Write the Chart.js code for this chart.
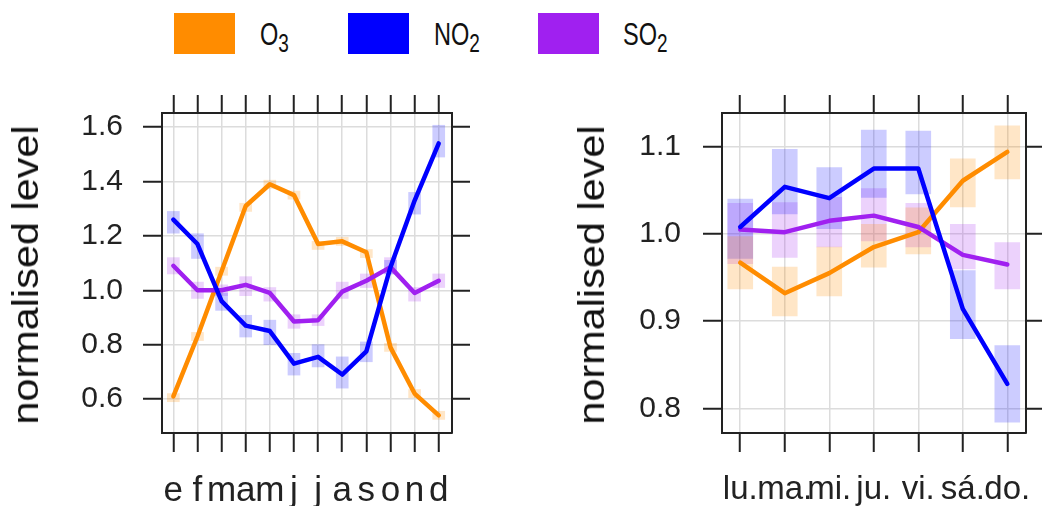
<!DOCTYPE html>
<html>
<head>
<meta charset="utf-8">
<script src="https://cdn.jsdelivr.net/npm/chart.js@4.4.1/dist/chart.umd.min.js"></script>
<style>
  html, body { margin: 0; padding: 0; background: #fff; overflow: hidden; width: 1042px; height: 506px; }
  body { position: relative; font-family: "Liberation Sans", Arial, sans-serif; color: #111; }
  canvas { position: absolute; top: 0; }
  #cMonth { left: 0; }
  #cDay { left: 560px; }
  .key { position: absolute; top: 13px; width: 61px; height: 41px; }
  .keyText { position: absolute; top: 20px; font-size: 31px; line-height: 30px; white-space: nowrap;
             transform: scaleX(0.76); transform-origin: left center; }
  .keyText sub { font-size: 25px; vertical-align: -7px; line-height: 0; }
  .ytitle { position: absolute; top: 275px; font-size: 36px; white-space: nowrap;
            transform: translate(-50%, -50%) rotate(-90deg) scaleX(1.15); }
</style>
</head>
<body>
<div class="key" style="left:174px;background:#FF8C00"></div>
<div class="keyText" style="left:260px">O<sub>3</sub></div>
<div class="key" style="left:348px;background:#0000FF"></div>
<div class="keyText" style="left:434px">NO<sub>2</sub></div>
<div class="key" style="left:538px;background:#A020F0"></div>
<div class="keyText" style="left:623px">SO<sub>2</sub></div>

<canvas id="cMonth" width="500" height="506"></canvas>
<canvas id="cDay" width="520" height="506"></canvas>

<div class="ytitle" style="left:26px">normalised level</div>
<div class="ytitle" style="left:592px">normalised level</div>

<script>
// month panel
const months = ['e', 'f', 'm', 'a', 'm', 'j', 'j', 'a', 's', 'o', 'n', 'd'];
const monthTicks = [0.6, 0.8, 1.0, 1.2, 1.4, 1.6];

const o3Month = [0.61, 0.83, 1.07, 1.31, 1.39, 1.35, 1.17, 1.18, 1.14, 0.79, 0.62, 0.54];
const o3MonthLo = [0.59, 0.815, 1.055, 1.29, 1.375, 1.335, 1.15, 1.165, 1.12, 0.775, 0.605, 0.525];
const o3MonthHi = [0.62, 0.845, 1.085, 1.32, 1.405, 1.365, 1.18, 1.195, 1.15, 0.805, 0.635, 0.555];

const no2Month = [1.26, 1.17, 0.96, 0.87, 0.85, 0.73, 0.755, 0.69, 0.775, 1.085, 1.33, 1.54];
const no2MonthLo = [1.21, 1.117, 0.926, 0.828, 0.80, 0.688, 0.718, 0.64, 0.737, 1.06, 1.28, 1.49];
const no2MonthHi = [1.29, 1.208, 0.99, 0.908, 0.89, 0.768, 0.80, 0.755, 0.81, 1.11, 1.36, 1.607];

const so2Month = [1.09, 1.0, 1.0, 1.02, 0.99, 0.885, 0.89, 0.995, 1.035, 1.085, 0.99, 1.035];
const so2MonthLo = [1.06, 0.97, 0.98, 0.98, 0.96, 0.86, 0.87, 0.97, 1.01, 1.06, 0.96, 1.01];
const so2MonthHi = [1.12, 1.03, 1.02, 1.05, 1.01, 0.91, 0.91, 1.03, 1.06, 1.12, 1.01, 1.06];

// weekday panel
const days = ['lu.', 'ma.', 'mi.', 'ju.', 'vi.', 'sá.', 'do.'];
const dayTicks = [0.8, 0.9, 1.0, 1.1];

const o3Day = [0.967, 0.932, 0.955, 0.985, 1.002, 1.061, 1.094];
const o3DayLo = [0.937, 0.906, 0.929, 0.962, 0.977, 1.031, 1.063];
const o3DayHi = [0.997, 0.962, 0.985, 1.011, 1.030, 1.086, 1.124];

const no2Day = [1.008, 1.054, 1.041, 1.075, 1.075, 0.914, 0.828];
const no2DayLo = [0.972, 1.023, 1.006, 1.042, 1.046, 0.880, 0.784];
const no2DayHi = [1.040, 1.097, 1.076, 1.119, 1.118, 0.958, 0.872];

const so2Day = [1.005, 1.002, 1.015, 1.021, 1.008, 0.976, 0.965];
const so2DayLo = [0.966, 0.973, 0.985, 0.992, 0.985, 0.960, 0.937];
const so2DayHi = [1.035, 1.036, 1.042, 1.052, 1.035, 1.011, 0.990];

const ORANGE = '#FF8C00', BLUE = '#0000FF', PURPLE = '#A020F0';
const ORANGE_BOX = 'rgba(255,140,0,0.22)';
const BLUE_BOX = 'rgba(0,0,255,0.2)';
const PURPLE_BOX = 'rgba(160,32,240,0.2)';
const INK = '#222';
const GRID = '#dcdcdc';
const FAMILY = '"Liberation Sans", Arial, sans-serif';

function lineSet(vals, color) {
    return {
        type: 'line',
        data: vals.map((v, i) => ({ x: i + 1, y: v })),
        borderColor: color,
        borderWidth: 4.5,
        borderJoinStyle: 'round',
        borderCapStyle: 'round',
        pointRadius: 0,
        fill: false,
        tension: 0,
        order: 0
    };
}

function boxSet(lo, hi, color, thick) {
    return {
        type: 'bar',
        data: lo.map((v, i) => ({ x: i + 1, y: [v, hi[i]] })),
        backgroundColor: color,
        borderWidth: 0,
        barThickness: thick,
        grouped: false,
        order: 1
    };
}

function panel(id, cats, yTicks, xMin, xMax, yMin, yMax, datasets, sizes) {
    const xTicks = s => { s.ticks = cats.map((c, i) => ({ value: i + 1 })); };
    const yTickSet = s => { s.ticks = yTicks.map(v => ({ value: v })); };
    const gridBase = { color: GRID, lineWidth: 1.5, tickLength: 19, tickColor: INK, tickWidth: 2, offset: false };
    const border = { display: true, color: INK, width: 2 };
    const noPad = s => { s.paddingLeft = 0; s.paddingRight = 0; s.paddingTop = 0; s.paddingBottom = 0; };

    return new Chart(document.getElementById(id), {
        type: 'bar',
        data: { datasets: datasets },
        options: {
            responsive: false,
            animation: false,
            layout: { padding: 0 },
            plugins: { legend: { display: false }, tooltip: { enabled: false } },
            scales: {
                x: {
                    type: 'linear', position: 'bottom', min: xMin, max: xMax, offset: false,
                    afterBuildTicks: xTicks,
                    afterFit: s => { s.height = sizes.bottom; noPad(s); },
                    ticks: {
                        callback: v => cats[v - 1], autoSkip: false, maxRotation: 0, minRotation: 0,
                        padding: 18, color: INK, font: { size: sizes.catFont, family: FAMILY }
                    },
                    grid: gridBase,
                    border: border
                },
                x2: {
                    type: 'linear', axis: 'x', position: 'top', min: xMin, max: xMax, offset: false,
                    afterBuildTicks: xTicks,
                    afterFit: s => { s.height = sizes.top; noPad(s); },
                    ticks: { display: false },
                    grid: Object.assign({}, gridBase, { drawOnChartArea: false, tickLength: 18 }),
                    border: border
                },
                y: {
                    type: 'linear', position: 'left', min: yMin, max: yMax,
                    afterBuildTicks: yTickSet,
                    afterFit: s => { s.width = sizes.left; noPad(s); },
                    ticks: {
                        callback: v => v.toFixed(1), padding: sizes.labelPad,
                        color: INK, font: { size: 30, family: FAMILY }
                    },
                    grid: gridBase,
                    border: border
                },
                y2: {
                    type: 'linear', axis: 'y', position: 'right', min: yMin, max: yMax,
                    afterBuildTicks: yTickSet,
                    afterFit: s => { s.width = sizes.right; noPad(s); },
                    ticks: { display: false },
                    grid: Object.assign({}, gridBase, { drawOnChartArea: false, tickLength: 18 }),
                    border: border
                }
            }
        }
    });
}

panel('cMonth', months, monthTicks, 0.53, 12.55, 0.475, 1.652, [
    lineSet(no2Month, BLUE),
    lineSet(so2Month, PURPLE),
    lineSet(o3Month, ORANGE),
    boxSet(o3MonthLo, o3MonthHi, ORANGE_BOX, 12),
    boxSet(no2MonthLo, no2MonthHi, BLUE_BOX, 12),
    boxSet(so2MonthLo, so2MonthHi, PURPLE_BOX, 12)
], { left: 162, right: 48, top: 113, bottom: 73, labelPad: 20, catFont: 35 });

panel('cDay', days, dayTicks, 0.59, 7.42, 0.7717, 1.1387, [
    lineSet(no2Day, BLUE),
    lineSet(so2Day, PURPLE),
    lineSet(o3Day, ORANGE),
    boxSet(o3DayLo, o3DayHi, ORANGE_BOX, 25),
    boxSet(no2DayLo, no2DayHi, BLUE_BOX, 25),
    boxSet(so2DayLo, so2DayHi, PURPLE_BOX, 25)
], { left: 162, right: 54, top: 113, bottom: 73, labelPad: 22, catFont: 33 });
</script>
</body>
</html>
